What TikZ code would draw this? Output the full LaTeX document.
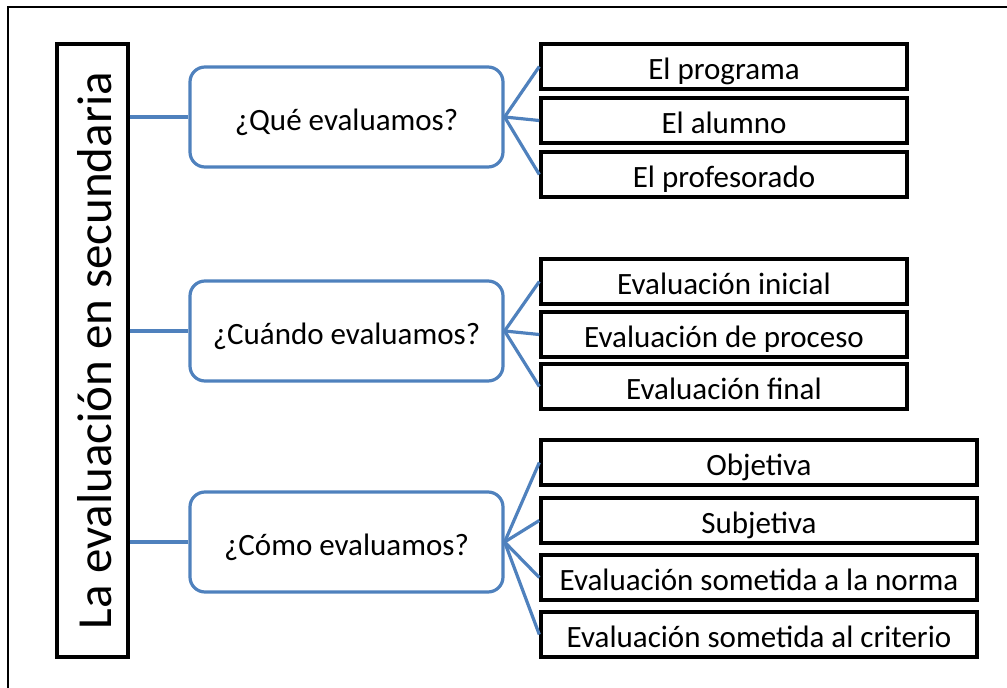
\documentclass[tikz,border=0pt]{standalone}
\usepackage{fontspec}
\setmainfont{Carlito}
\definecolor{linkblue}{RGB}{79,129,189}
\tikzset{
  item/.style = {draw, line width = 3.4pt, minimum height = 45pt, inner sep = 0pt, text height = 26pt, text depth = 0pt, font = \fontsize{31}{34}\selectfont},
  question/.style = {draw = linkblue, line width = 3.2pt, rounded corners = 15pt, minimum width = 313pt, minimum height = 100pt, inner sep = 0pt, text height = 27pt, text depth = 0pt, font = \fontsize{31}{34}\selectfont},
  link/.style = {linkblue, line width = 3.2pt}
}
\begin{document}
\begin{tikzpicture}[x = 1pt, y = -1pt]
\useasboundingbox (0,0) rectangle (1007,688);
\draw [line width = 2pt] (8,688) -- (8,7) -- (1007,7);
\node [draw, line width = 3.2pt, rotate = 90, minimum width = 613pt, minimum height = 71pt, inner sep = 0pt, text height = 38pt, text depth = 0pt, font = \fontsize{49}{54}\selectfont] (title) at (92.5,350.5) {La evaluación en secundaria};
\node [question] (que) at (346.5,117) {¿Qué evaluamos?};
\node [question] (cuando) at (346.5,331) {¿Cuándo evaluamos?};
\node [question] (como) at (346.5,542) {¿Cómo evaluamos?};
\node [item, minimum width = 366pt] (programa) at (724,66.5) {El programa};
\node [item, minimum width = 366pt] (alumno) at (724,120.5) {El alumno};
\node [item, minimum width = 366pt] (profesorado) at (724,174.5) {El profesorado};
\node [item, minimum width = 366pt] (inicial) at (724,281.5) {Evaluación inicial};
\node [item, minimum width = 366pt] (proceso) at (724,334.5) {Evaluación de proceso};
\node [item, minimum width = 366pt] (final) at (724,386.5) {Evaluación final};
\node [item, minimum width = 436pt] (objetiva) at (759,462.5) {Objetiva};
\node [item, minimum width = 436pt] (subjetiva) at (759,520.5) {Subjetiva};
\node [item, minimum width = 436pt] (norma) at (759,577.5) {Evaluación sometida a la norma};
\node [item, minimum width = 436pt] (criterio) at (759,634.5) {Evaluación sometida al criterio};
\draw [link] (title.south |- que.west) -- (que.west);
\draw [link] (title.south |- cuando.west) -- (cuando.west);
\draw [link] (title.south |- como.west) -- (como.west);
\draw [link] (que.east) -- (programa.west);
\draw [link] (que.east) -- (alumno.west);
\draw [link] (que.east) -- (profesorado.west);
\draw [link] (cuando.east) -- (inicial.west);
\draw [link] (cuando.east) -- (proceso.west);
\draw [link] (cuando.east) -- (final.west);
\draw [link] (como.east) -- (objetiva.west);
\draw [link] (como.east) -- (subjetiva.west);
\draw [link] (como.east) -- (norma.west);
\draw [link] (como.east) -- (criterio.west);
\end{tikzpicture}
\end{document}
